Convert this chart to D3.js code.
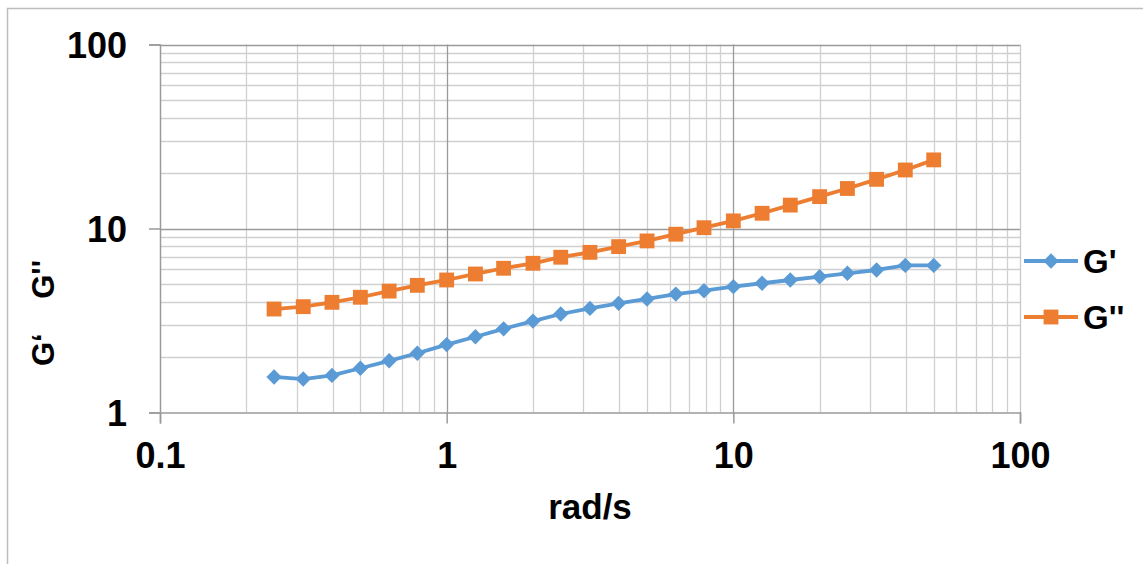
<!DOCTYPE html>
<html>
<head>
<meta charset="utf-8">
<script src="https://cdn.jsdelivr.net/npm/d3@7"></script>
<style>
body { margin: 0; background: #fff; }
text { font-family: "Liberation Sans", Arial, sans-serif; font-weight: bold; fill: #000; }
</style>
</head>
<body>
<script>
// frequency (rad/s)
var freq = [0.25, 0.316, 0.398, 0.5, 0.63, 0.79, 1, 1.26, 1.58, 2, 2.5, 3.16,
	3.98, 5, 6.3, 7.9, 10, 12.6, 15.8, 20, 25, 31.6, 39.8, 50];
var gPrime = [1.56, 1.52, 1.59, 1.74, 1.91, 2.10, 2.34, 2.58, 2.85, 3.14, 3.43, 3.68,
	3.92, 4.14, 4.40, 4.59, 4.83, 5.04, 5.25, 5.47, 5.71, 5.95, 6.30, 6.30];
var gDouble = [3.65, 3.76, 3.97, 4.23, 4.57, 4.91, 5.25, 5.66, 6.08, 6.47, 6.98, 7.42,
	7.97, 8.56, 9.31, 10.1, 11.0, 12.1, 13.4, 14.9, 16.5, 18.5, 20.8, 23.6];
var xTicks = [0.1, 1, 10, 100];
var yTicks = [1, 10, 100];
var seriesNames = ["G'", "G''"];

var w = 1143, h = 564;
var mLeft = 160, mRight = 1020, mTop = 44.5, mBottom = 412.5;

var svg = d3.select("body").append("svg")
	.attr("width", w)
	.attr("height", h);

// outer chart border (cut by the picture edge on right/bottom)
svg.append("rect")
	.attr("x", 7.5).attr("y", 8.5)
	.attr("width", 1200).attr("height", 600)
	.attr("fill", "none")
	.attr("stroke", "#bdbdbd")
	.attr("stroke-width", 1.5);

var x = d3.scaleLog().domain([0.1, 100]).range([mLeft, mRight]);
var y = d3.scaleLog().domain([1, 100]).range([mBottom, mTop]);

// minor gridlines 2..9 in each decade
var xMinor = [], yMinor = [];
[0.1, 1, 10].forEach(function(d) {
	for (var k = 2; k <= 9; k++) xMinor.push(d * k);
});
[1, 10].forEach(function(d) {
	for (var k = 2; k <= 9; k++) yMinor.push(d * k);
});

var grid = svg.append("g");
grid.selectAll(".vminor").data(xMinor).enter().append("line")
	.attr("x1", function(d) { return Math.round(x(d)) + 0.5; })
	.attr("x2", function(d) { return Math.round(x(d)) + 0.5; })
	.attr("y1", mTop).attr("y2", mBottom)
	.attr("stroke", "#d0d0d0").attr("stroke-width", 1.3);
grid.selectAll(".hminor").data(yMinor).enter().append("line")
	.attr("y1", function(d) { return Math.round(y(d)) + 0.5; })
	.attr("y2", function(d) { return Math.round(y(d)) + 0.5; })
	.attr("x1", mLeft).attr("x2", mRight)
	.attr("stroke", "#d0d0d0").attr("stroke-width", 1.3);

// major gridlines
grid.selectAll(".vmajor").data([1, 10]).enter().append("line")
	.attr("x1", function(d) { return Math.round(x(d)) + 0.5; })
	.attr("x2", function(d) { return Math.round(x(d)) + 0.5; })
	.attr("y1", mTop).attr("y2", mBottom)
	.attr("stroke", "#9a9a9a").attr("stroke-width", 1.3);
grid.selectAll(".hmajor").data([10, 100]).enter().append("line")
	.attr("y1", function(d) { return Math.round(y(d)) + 0.5; })
	.attr("y2", function(d) { return Math.round(y(d)) + 0.5; })
	.attr("x1", mLeft).attr("x2", mRight)
	.attr("stroke", "#9a9a9a").attr("stroke-width", 1.3);
// right edge of plot
grid.append("line")
	.attr("x1", mRight + 0.5).attr("x2", mRight + 0.5)
	.attr("y1", mTop).attr("y2", mBottom)
	.attr("stroke", "#c8c8c8").attr("stroke-width", 1.3);

// axes
var xAxis = d3.axisBottom(x).tickValues(xTicks)
	.tickFormat(function(d) { return d; })
	.tickSize(11).tickPadding(19);
var yAxis = d3.axisLeft(y).tickValues(yTicks)
	.tickFormat(function(d) { return d; })
	.tickSize(11).tickPadding(22);

var gx = svg.append("g")
	.attr("transform", "translate(0," + mBottom + ")")
	.call(xAxis);
var gy = svg.append("g")
	.attr("transform", "translate(" + mLeft + ",0)")
	.call(yAxis);

[gx, gy].forEach(function(g) {
	g.select(".domain").attr("stroke", "#9a9a9a").attr("stroke-width", 1.5);
	g.selectAll(".tick line").attr("stroke", "#9a9a9a").attr("stroke-width", 1.5);
	g.selectAll(".tick text")
		.attr("font-family", "Liberation Sans, Arial, sans-serif")
		.attr("font-weight", "bold")
		.attr("font-size", 36)
		.attr("fill", "#000");
});
gy.selectAll(".tick text").attr("dy", "0.36em");

// axis titles
svg.append("text")
	.attr("x", (mLeft + mRight) / 2)
	.attr("y", 519)
	.attr("text-anchor", "middle")
	.attr("font-size", 35)
	.text("rad/s");

svg.append("text")
	.attr("transform", "translate(54,313) rotate(-90)")
	.attr("text-anchor", "middle")
	.attr("font-size", 31)
	.style("white-space", "pre")
	.text("G\u2018    G''");

// series
var colors = ["#5B9BD5", "#ED7D31"];
var series = [gPrime, gDouble];
var line = d3.line()
	.x(function(d, i) { return x(freq[i]); })
	.y(function(d) { return y(d); });

var diamond = d3.symbol().type(d3.symbolDiamond2).size(150);
var square = d3.symbol().type(d3.symbolSquare).size(220);
var shapes = [diamond, square];

series.forEach(function(vals, s) {
	svg.append("path")
		.datum(vals)
		.attr("d", line)
		.attr("fill", "none")
		.attr("stroke", colors[s])
		.attr("stroke-width", 3.8)
		.attr("stroke-linejoin", "round");
	svg.append("g").selectAll("path")
		.data(vals)
		.enter()
		.append("path")
		.attr("d", shapes[s])
		.attr("transform", function(d, i) {
			return "translate(" + x(freq[i]) + "," + y(d) + ")";
		})
		.attr("fill", colors[s]);
});

// legend
var legendY = [261, 317];
var legend = svg.append("g");
seriesNames.forEach(function(name, s) {
	legend.append("line")
		.attr("x1", 1024).attr("x2", 1078)
		.attr("y1", legendY[s]).attr("y2", legendY[s])
		.attr("stroke", colors[s])
		.attr("stroke-width", 3.8);
	legend.append("path")
		.attr("d", shapes[s])
		.attr("transform", "translate(1051," + legendY[s] + ")")
		.attr("fill", colors[s]);
	legend.append("text")
		.attr("x", 1083)
		.attr("y", legendY[s] + 12)
		.attr("font-size", 33)
		.text(name);
});
</script>
</body>
</html>
